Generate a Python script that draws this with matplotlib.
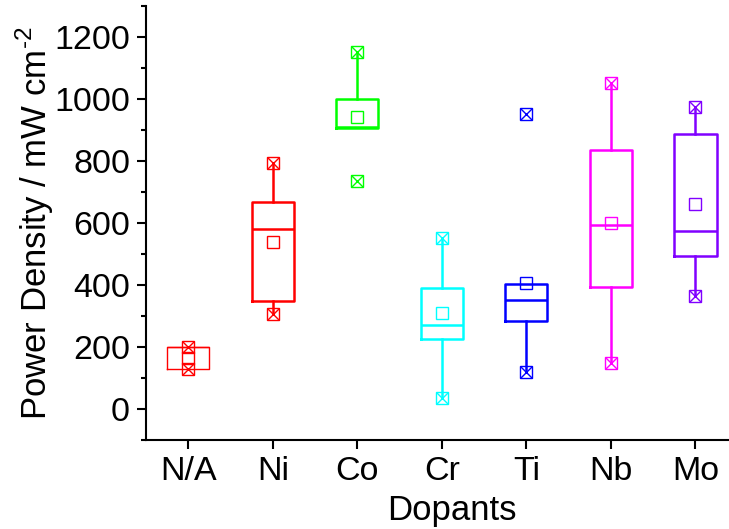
import matplotlib

matplotlib.use("Agg")
import matplotlib.pyplot as plt
from matplotlib.ticker import MultipleLocator

plt.rcParams["font.family"] = ["Liberation Sans", "DejaVu Sans"]
plt.rcParams["mathtext.fontset"] = "custom"
plt.rcParams["mathtext.rm"] = "Liberation Sans"

categories = ["N/A", "Ni", "Co", "Cr", "Ti", "Nb", "Mo"]
q1 = [130, 350, 905, 227, 283, 392, 495]
median = [200, 582, 910, 270, 351, 594, 574]
q3 = [200, 666, 1000, 390, 402, 834, 887]
mean = [165, 538, 941, 310, 406, 599, 661]
whisker_low = [130, 305, 905, 36, 119, 149, 364]
whisker_high = [200, 793, 1150, 550, 402, 1050, 975]
data_min = [130, 305, 736, 36, 119, 149, 364]
data_max = [200, 793, 1150, 550, 952, 1050, 975]
colors = ["#ff0000", "#ff0000", "#00ff00", "#00ffff", "#0000ff", "#ff00ff", "#8000ff"]

fig = plt.figure(figsize=(7.29, 5.29), dpi=100)
ax = fig.add_axes([0.2003, 0.168, 0.80, 0.821])

positions = list(range(1, len(categories) + 1))
for i, pos in enumerate(positions):
    stats = [{
        "q1": q1[i], "med": median[i], "q3": q3[i],
        "whislo": whisker_low[i], "whishi": whisker_high[i],
        "fliers": [], "label": categories[i],
    }]
    lw = 1.0 if i == 0 else 1.8
    c = colors[i]
    ax.bxp(stats, positions=[pos], widths=0.5, showcaps=False, showfliers=False,
           boxprops=dict(color=c, lw=lw), medianprops=dict(color=c, lw=lw),
           whiskerprops=dict(color=c, lw=lw))
    ax.plot([pos], [mean[i]], marker="s", ms=8, mfc="none", mec=c, mew=1.0, ls="none", zorder=4)
    for v in (data_min[i], data_max[i]):
        ax.plot([pos], [v], marker="s", ms=8, mfc="none", mec=c, mew=1.0, ls="none", zorder=4)
        ax.plot([pos], [v], marker="x", ms=8, mfc="none", mec=c, mew=1.0, ls="none", zorder=4)

ax.set_xlim(0.5, 7.4)
ax.set_ylim(-100, 1300)
ax.set_xticks(positions)
ax.set_xticklabels(categories)
ax.set_yticks(range(0, 1201, 200))
ax.yaxis.set_minor_locator(MultipleLocator(100))
ax.tick_params(axis="both", which="major", direction="out", length=6.5, width=1.5,
               labelsize=24.5, pad=5)
ax.tick_params(axis="y", which="minor", direction="out", length=3.5, width=1.5)
ax.spines["top"].set_visible(False)
ax.spines["right"].set_visible(False)
ax.spines["left"].set_linewidth(1.5)
ax.spines["bottom"].set_linewidth(1.5)
ax.set_xlabel("Dopants", fontsize=25, labelpad=0)
ax.xaxis.set_label_coords(0.525, -0.125)
ax.set_ylabel(r"Power Density / mW cm$^{\mathrm{\text{-}2}}$", fontsize=25)
ax.yaxis.set_label_coords(-0.155, 0.5)

fig.savefig("out.png", dpi=100)
